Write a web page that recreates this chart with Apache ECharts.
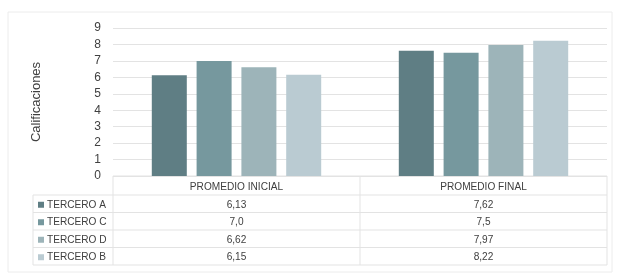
<!DOCTYPE html>
<html>
<head>
<meta charset="utf-8">
<script src="https://cdn.jsdelivr.net/npm/echarts@6/dist/echarts.min.js"></script>
<style>
  html, body { margin: 0; padding: 0; background: #fff; }
  #chart { width: 619px; height: 277px; }
</style>
</head>
<body>
<div id="chart"></div>
<script>
// datos
const categorias = ['PROMEDIO INICIAL', 'PROMEDIO FINAL'];
const grupos = ['TERCERO A', 'TERCERO C', 'TERCERO D', 'TERCERO B'];
const terceroA = [6.13, 7.62];
const terceroC = [7.0, 7.5];
const terceroD = [6.62, 7.97];
const terceroB = [6.15, 8.22];
const colores = ['#5f7e84', '#76989e', '#9db4b9', '#bacbd2'];

const valores = [terceroA, terceroC, terceroD, terceroB];
const fuente = '"Liberation Sans", Arial, sans-serif';
const texto = '#404040';
const linea = '#e3e3e3';

const fmt = v => (v % 1 === 0 ? v.toFixed(1) : String(v)).replace('.', ',');

var chartDom = document.getElementById('chart');
var myChart = echarts.init(chartDom);

var option = {
    animation: false,
    grid: { left: 113, right: 12, top: 28, bottom: 101 },
    xAxis: {
        type: 'category',
        data: categorias,
        axisLine: { show: false },
        axisTick: { show: false },
        axisLabel: { show: false }
    },
    yAxis: {
        type: 'value',
        min: 0,
        max: 9,
        interval: 1,
        name: 'Calificaciones',
        nameLocation: 'middle',
        nameGap: 70,
        nameTextStyle: { color: texto, fontFamily: fuente, fontSize: 13 },
        axisLabel: { color: texto, fontFamily: fuente, fontSize: 12, margin: 12 },
        splitLine: { lineStyle: { color: linea, width: 1 } }
    },
    series: grupos.map((g, i) => ({
        name: g,
        type: 'bar',
        data: valores[i],
        barWidth: 35,
        barGap: '28%',
        itemStyle: { color: colores[i] }
    }))
};

myChart.setOption(option);

// tabla de datos debajo del eje
function dibujarTabla() {
    const x0 = myChart.convertToPixel({ xAxisIndex: 0 }, categorias[0]);
    const x1 = myChart.convertToPixel({ xAxisIndex: 0 }, categorias[1]);
    const ancho = x1 - x0;
    const izq = x0 - ancho / 2;
    const der = x1 + ancho / 2;
    const top = myChart.convertToPixel({ yAxisIndex: 0 }, 0);
    const headH = 19;
    const rowH = 17.5;
    const filasTop = top + headH;
    const fondo = filasTop + rowH * grupos.length;
    const legIzq = 33;
    const els = [];
    const ln = (xa, ya, xb, yb) => els.push({
        type: 'line', shape: { x1: xa, y1: ya, x2: xb, y2: yb },
        style: { stroke: linea, lineWidth: 1 }, silent: true
    });
    // texto algo condensado, como en el original
    const tx = (t, x, y, align) => els.push({
        type: 'text', x: x, y: y, scaleX: 0.88,
        style: { text: t, fill: texto, font: '11.5px ' + fuente, align: align, verticalAlign: 'middle' }
    });

    // marco exterior
    els.push({ type: 'rect', shape: { x: 8, y: 12, width: 604, height: 260 },
        style: { fill: 'none', stroke: '#ececec', lineWidth: 1 }, silent: true });

    ln(izq, top, izq, fondo);
    ln(der, top, der, fondo);
    ln((izq + der) / 2, top, (izq + der) / 2, fondo);
    ln(izq, top, der, top);
    ln(legIzq, filasTop, legIzq, fondo);
    for (let r = 0; r <= grupos.length; r++) {
        ln(legIzq, filasTop + r * rowH, der, filasTop + r * rowH);
    }
    categorias.forEach((c, j) => {
        const cx = myChart.convertToPixel({ xAxisIndex: 0 }, c);
        tx(c, cx, top + headH / 2 + 1, 'center');
        grupos.forEach((g, i) => {
            tx(fmt(valores[i][j]), cx, filasTop + rowH * i + rowH / 2 + 1, 'center');
        });
    });
    grupos.forEach((g, i) => {
        const cy = filasTop + rowH * i + rowH / 2 + 1;
        els.push({ type: 'rect', shape: { x: 38, y: cy - 3, width: 6, height: 6 },
            style: { fill: colores[i] }, silent: true });
        tx(g, 47, cy, 'left');
    });
    myChart.setOption({ graphic: els });
}
dibujarTabla();
</script>
</body>
</html>
